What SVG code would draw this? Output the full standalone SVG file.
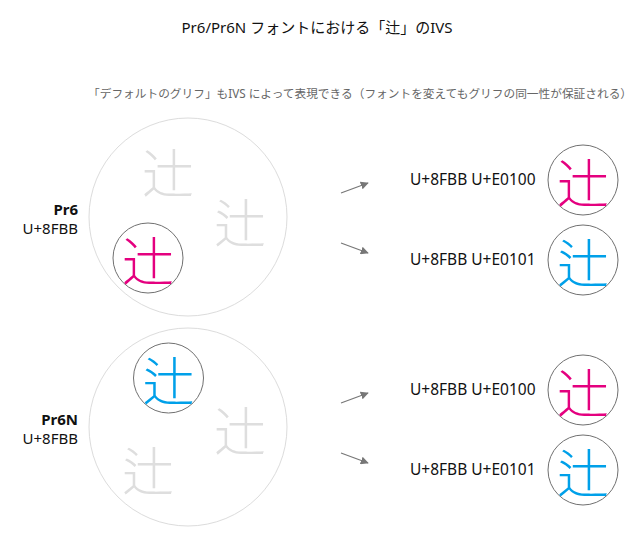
<svg xmlns="http://www.w3.org/2000/svg" width="637" height="547" viewBox="0 0 637 547">
<style>
.title{font-family:"Noto Sans","Noto Sans CJK JP",sans-serif;font-size:15px;fill:#111}
.sub{font-family:"Noto Sans","Noto Sans CJK JP",sans-serif;font-size:11.7px;fill:#666}
.lbl{font-family:"Noto Sans","Noto Sans CJK JP",sans-serif;font-size:15.5px;fill:#111}
.side{font-family:"Noto Sans",sans-serif;font-size:15px;fill:#111;text-anchor:end}
.bold{font-weight:bold}
.big{fill:none;stroke:#dcdcdc;stroke-width:1}
.sm{fill:#fff;stroke:#707070;stroke-width:1}
.k{font-family:"Noto Sans CJK JP",sans-serif;font-size:52px;font-weight:300;text-anchor:middle;dominant-baseline:central}
.g{fill:#dedede}
.m{fill:#e4007f}
.c{fill:#00a0e9}
.arr{stroke:#777;stroke-width:1.2;fill:none}
</style>
<defs>
<marker id="ah" viewBox="0 0 10 10" refX="9" refY="5" markerWidth="8" markerHeight="8" markerUnits="userSpaceOnUse" orient="auto">
<path d="M0,0 L10,5 L0,10 z" fill="#777"/>
</marker>
</defs>
<text class="title" x="317" y="33" text-anchor="middle">Pr6/Pr6N フォントにおける「辻」のIVS</text>
<text class="sub" x="88" y="98">「デフォルトのグリフ」もIVS によって表現できる（フォントを変えてもグリフの同一性が保証される）</text>

<g id="pr6">
<circle class="big" cx="188" cy="217" r="99"/>
<text class="k g" x="168" y="170">辻&#xE0100;</text>
<text class="k g" x="240" y="220">辻&#xE0101;</text>
<circle class="sm" cx="148" cy="258" r="35"/>
<text class="k m" x="148" y="258">辻&#xE0100;</text>
<text class="side bold" x="78" y="215">Pr6</text>
<text class="side" x="78" y="234">U+8FBB</text>
</g>

<g id="pr6n">
<circle class="big" cx="188" cy="427" r="99"/>
<text class="k g" x="240" y="428">辻&#xE0100;</text>
<text class="k g" x="148" y="468">辻&#xE0101;</text>
<circle class="sm" cx="168.5" cy="378" r="35"/>
<text class="k c" x="168.5" y="378">辻&#xE0101;</text>
<text class="side bold" x="78" y="425">Pr6N</text>
<text class="side" x="78" y="444">U+8FBB</text>
</g>

<g id="r1">
<text class="lbl" x="410" y="185">U+8FBB U+E0100</text>
<circle class="sm" cx="583" cy="180" r="35"/>
<text class="k m" x="583" y="180">辻&#xE0100;</text>
</g>
<g id="r2">
<text class="lbl" x="410" y="265">U+8FBB U+E0101</text>
<circle class="sm" cx="583" cy="260" r="35"/>
<text class="k c" x="583" y="260">辻&#xE0101;</text>
</g>
<g id="r3">
<text class="lbl" x="410" y="395">U+8FBB U+E0100</text>
<circle class="sm" cx="583" cy="390" r="35"/>
<text class="k m" x="583" y="390">辻&#xE0100;</text>
</g>
<g id="r4">
<text class="lbl" x="410" y="475">U+8FBB U+E0101</text>
<circle class="sm" cx="583" cy="470" r="35"/>
<text class="k c" x="583" y="470">辻&#xE0101;</text>
</g>

<g id="connectors">
<line class="arr" x1="341" y1="193" x2="368" y2="183" marker-end="url(#ah)"/>
<line class="arr" x1="341" y1="243" x2="368" y2="253" marker-end="url(#ah)"/>
<line class="arr" x1="341" y1="403" x2="368" y2="393" marker-end="url(#ah)"/>
<line class="arr" x1="341" y1="453" x2="368" y2="463" marker-end="url(#ah)"/>
</g>
</svg>
